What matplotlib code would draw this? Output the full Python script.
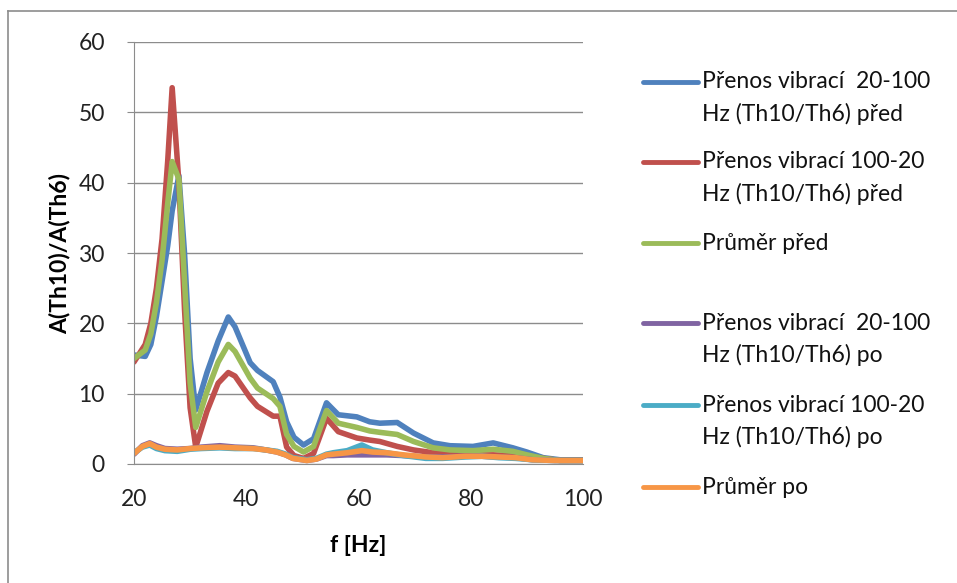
import matplotlib
matplotlib.use("Agg")
import matplotlib.pyplot as plt
from matplotlib.lines import Line2D

plt.rcParams["font.family"] = ["Lato", "DejaVu Sans"]

# frequency grid [Hz]
f_pred = [20, 22, 23, 24, 25, 26, 26.8, 28, 29, 30, 31, 33, 35, 36.8, 38, 40.7, 42, 44.8, 46, 47.2,
          48.5, 50.2, 52, 54.3, 56.4, 59.7, 62, 63.8, 66.9, 69.8, 73.3, 76.3, 80.4, 84, 87.5, 90,
          92.9, 95.9, 100]
blue = [15.5, 15.3, 17, 21, 26, 31, 36, 41, 30, 15, 7.7, 13, 17.5, 20.9, 19.5, 14.4, 13.3, 11.7, 9.5, 6,
        3.8, 2.7, 3.6, 8.7, 7.0, 6.7, 6.0, 5.8, 5.9, 4.4, 3.0, 2.6, 2.5, 3.0, 2.3, 1.7,
        0.9, 0.6, 0.6]
red = [14.5, 17, 20, 25, 32, 43, 53.5, 40, 22, 8, 2.4, 7.5, 11.5, 13, 12.5, 9.4, 8.2, 6.8, 6.8, 2.4,
       1.2, 0.8, 1.5, 6.5, 4.6, 3.7, 3.4, 3.2, 2.5, 2.0, 1.6, 1.4, 1.3, 1.3, 1.2, 1.0,
       0.8, 0.5, 0.5]
green = [15, 16.2, 18.5, 23, 29, 37, 43, 40.5, 26, 11.5, 5.2, 10.3, 14.5, 17, 16, 12.2, 10.8, 9.3, 8.2, 4.2,
         2.5, 1.7, 2.5, 7.6, 5.8, 5.2, 4.7, 4.5, 4.2, 3.2, 2.3, 2.0, 1.9, 2.1, 1.8, 1.3,
         0.8, 0.5, 0.5]

f_po = [20, 21.5, 22.8, 24, 25.5, 27.7, 30, 32, 35.3, 38, 41.2, 43.5, 45.5, 47, 48.3, 50.8, 52.5,
        54.3, 55.5, 58, 60.6, 62.5, 65, 68, 72, 75, 79, 82, 85, 88, 91, 95, 100]
purple = [1.4, 2.6, 3.0, 2.6, 2.2, 2.1, 2.2, 2.4, 2.6, 2.4, 2.3, 2.0, 1.7, 1.3, 0.8, 0.5, 0.7,
          1.2, 1.2, 1.3, 1.3, 1.3, 1.3, 1.2, 1.0, 1.0, 1.1, 1.1, 1.0, 0.9, 0.6, 0.5, 0.5]
teal = [1.6, 2.4, 2.7, 2.2, 1.9, 1.8, 2.1, 2.2, 2.3, 2.2, 2.2, 2.0, 1.8, 1.4, 0.9, 0.6, 0.8,
        1.4, 1.6, 1.9, 2.7, 2.0, 1.6, 1.2, 0.8, 0.8, 1.0, 1.1, 0.9, 0.8, 0.6, 0.5, 0.5]
orange = [1.5, 2.5, 2.9, 2.4, 2.1, 2.0, 2.2, 2.3, 2.4, 2.3, 2.2, 2.0, 1.7, 1.3, 0.8, 0.5, 0.7,
          1.3, 1.4, 1.6, 1.9, 1.7, 1.6, 1.3, 1.0, 0.9, 1.1, 1.1, 1.0, 0.9, 0.6, 0.5, 0.5]

labels = ["Přenos vibrací  20-100\nHz (Th10/Th6) před",
          "Přenos vibrací 100-20\nHz (Th10/Th6) před",
          "Průměr před",
          "Přenos vibrací  20-100\nHz (Th10/Th6) po",
          "Přenos vibrací 100-20\nHz (Th10/Th6) po",
          "Průměr po"]
colors = ["#4F81BD", "#C0504D", "#9BBB59", "#8064A2", "#4BACC6", "#F79646"]

W, H = 957, 583
LW = 4.0
FS = 16.5
GRID = "#8c8c8c"

fig = plt.figure(figsize=(W / 100, H / 100), dpi=100)
ax = fig.add_axes([134 / W, 1 - 464 / H, 449 / W, 422 / H])

series = [(f_pred, blue), (f_pred, red), (f_pred, green),
          (f_po, purple), (f_po, teal), (f_po, orange)]
for (x, y), c, lab in zip(series, colors, labels):
    ax.plot(x, y, color=c, lw=LW, solid_joinstyle="round", solid_capstyle="round", label=lab)

ax.set_xlim(20, 100)
ax.set_ylim(0, 60)
ax.set_xticks([20, 40, 60, 80, 100])
ax.set_yticks(range(0, 61, 10))
ax.grid(axis="y", color=GRID, lw=1)
ax.set_axisbelow(True)
for s in ["top", "right"]:
    ax.spines[s].set_visible(False)
for s in ["left", "bottom"]:
    ax.spines[s].set_color(GRID)
ax.tick_params(axis="y", length=5, color=GRID, labelsize=FS, labelcolor="#222222", pad=16)
ax.tick_params(axis="x", length=0, labelsize=FS, labelcolor="#222222", pad=18)
ax.set_xlabel("f [Hz]", fontsize=FS, fontweight="bold", labelpad=18)
ax.set_ylabel("A(Th10)/A(Th6)", fontsize=FS, fontweight="bold", labelpad=6)

# legend drawn by hand: handle sits on the first text line, like Excel
entry_top = [82, 162, 243, 323, 405, 487]
for lab, c, y0 in zip(labels, colors, entry_top):
    yf = 1 - y0 / H
    fig.add_artist(Line2D([643 / W, 698 / W], [yf, yf], color=c, lw=LW - 0.5,
                          solid_capstyle="round", transform=fig.transFigure))
    for i, line in enumerate(lab.split("\n")):
        fig.text(702 / W, 1 - (y0 + 32 * i) / H, line, fontsize=FS, color="#111111",
                 va="center", ha="left")

# outer chart border (top and left visible)
fig.add_artist(Line2D([8 / W, 1], [1 - 11 / H, 1 - 11 / H], color=GRID, lw=1.2,
                      transform=fig.transFigure))
fig.add_artist(Line2D([8 / W, 8 / W], [0, 1 - 11 / H], color=GRID, lw=1.2,
                      transform=fig.transFigure))

fig.savefig("out.png", dpi=100)
